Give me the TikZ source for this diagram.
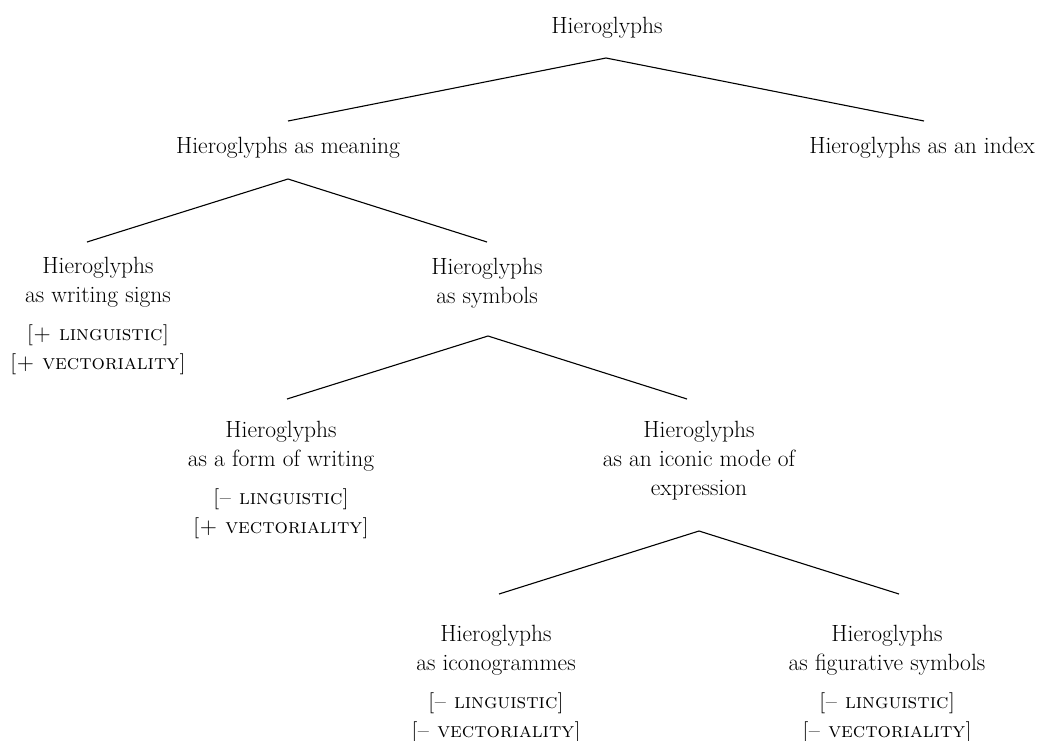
\documentclass[tikz,border=0pt]{standalone}
\usepackage{fontspec}
\newcommand{\feat}[1]{{\fontsize{21}{29}\selectfont\textsc{#1}}}
\begin{document}
\begin{tikzpicture}[x=1pt,y=-1pt,
  lbl/.style={anchor=base,align=center,inner sep=0pt,font=\fontsize{23.5}{29}\selectfont},
  branch/.style={line width=1.1pt,line join=miter}]
\useasboundingbox (0,0) rectangle (1043,740);
% nodes (anchor = baseline of the last line)
\node[lbl] (root) at (607,33) {Hieroglyphs};
\node[lbl] (mean) at (288,153) {Hieroglyphs as meaning};
\node[lbl] (index) at (922,153) {Hieroglyphs as an index};
\node[lbl] (writ) at (98,369) {Hieroglyphs\\as writing signs\\[9pt]\feat{[+ linguistic]}\\\feat{[+ vectoriality]}};
\node[lbl] (symb) at (487,303) {Hieroglyphs\\as symbols};
\node[lbl] (form) at (281,533) {Hieroglyphs\\as a form of writing\\[9pt]\feat{[-- linguistic]}\\\feat{[+ vectoriality]}};
\node[lbl] (icon) at (699,495) {Hieroglyphs\\as an iconic mode of\\expression};
\node[lbl] (igram) at (496,737) {Hieroglyphs\\as iconogrammes\\[9pt]\feat{[-- linguistic]}\\\feat{[-- vectoriality]}};
\node[lbl] (fig) at (887,737) {Hieroglyphs\\as figurative symbols\\[9pt]\feat{[-- linguistic]}\\\feat{[-- vectoriality]}};
% branch points
\coordinate (rootA) at (606,58);
\coordinate (meanE) at (288,121);
\coordinate (indexE) at (924,121);
\coordinate (meanA) at (288,179);
\coordinate (writE) at (87,242);
\coordinate (symbE) at (487,242);
\coordinate (symbA) at (488,336);
\coordinate (formE) at (287,399);
\coordinate (iconE) at (687,399);
\coordinate (iconA) at (699,531);
\coordinate (igramE) at (499,594);
\coordinate (figE) at (899,594);
% connectors
\draw[branch] (meanE) -- (rootA) -- (indexE);
\draw[branch] (writE) -- (meanA) -- (symbE);
\draw[branch] (formE) -- (symbA) -- (iconE);
\draw[branch] (igramE) -- (iconA) -- (figE);
\end{tikzpicture}
\end{document}
